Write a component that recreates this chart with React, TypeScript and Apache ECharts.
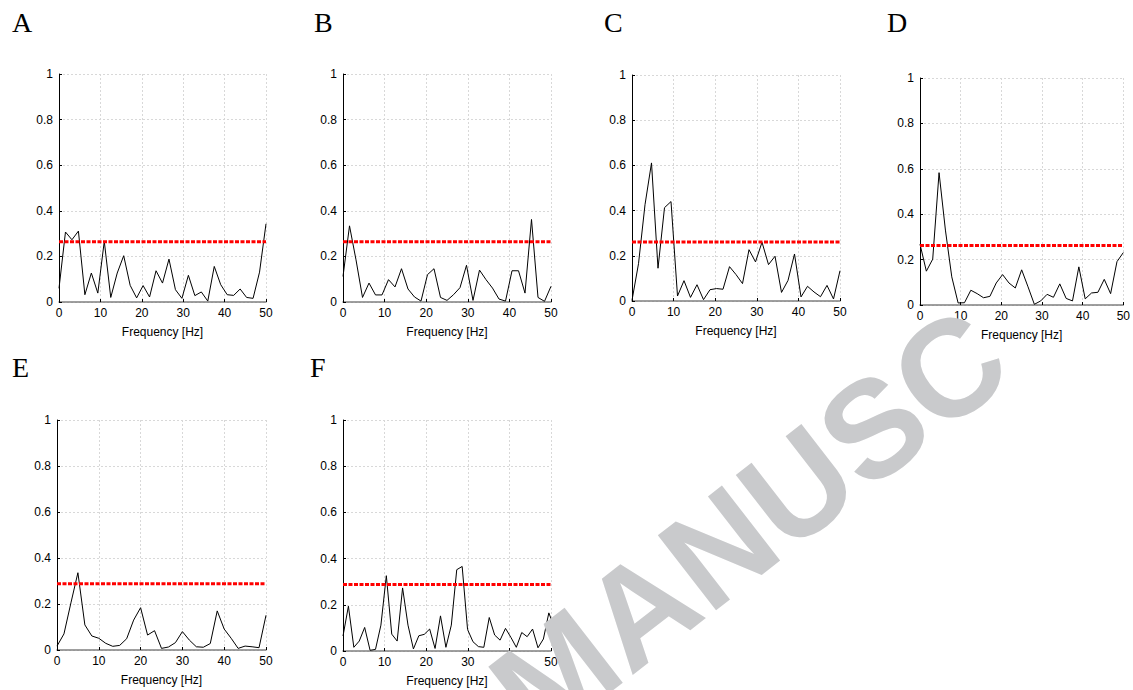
import React, { useEffect, useRef } from "react";
import * as echarts from "echarts";

// Spectra (coherence) per panel, sampled on uniform frequency bins
const stepA = 1.5625;
const valsA = [0.06, 0.307, 0.273, 0.311, 0.032, 0.127, 0.039, 0.266, 0.02, 0.127, 0.203, 0.073, 0.018, 0.072, 0.022, 0.137, 0.083, 0.188, 0.054, 0.016, 0.117, 0.028, 0.044, 0.004, 0.156, 0.076, 0.032, 0.029, 0.057, 0.02, 0.016, 0.131, 0.343];
const stepB = 1.5625;
const valsB = [0.112, 0.334, 0.185, 0.02, 0.083, 0.031, 0.031, 0.098, 0.066, 0.146, 0.057, 0.022, 0.004, 0.12, 0.146, 0.02, 0.007, 0.032, 0.063, 0.161, 0.007, 0.14, 0.098, 0.061, 0.013, 0.004, 0.137, 0.137, 0.039, 0.362, 0.02, 0.003, 0.069];
const stepC = 1.5625;
const valsC = [0.003, 0.165, 0.426, 0.611, 0.145, 0.413, 0.44, 0.022, 0.09, 0.016, 0.072, 0.006, 0.05, 0.055, 0.052, 0.152, 0.117, 0.077, 0.227, 0.173, 0.26, 0.161, 0.198, 0.038, 0.091, 0.208, 0.018, 0.065, 0.04, 0.019, 0.069, 0.009, 0.134];
const stepD = 1.5625;
const valsD = [0.268, 0.149, 0.202, 0.583, 0.33, 0.124, 0.009, 0.01, 0.065, 0.05, 0.032, 0.038, 0.097, 0.134, 0.097, 0.075, 0.155, 0.08, 0.003, 0.018, 0.047, 0.034, 0.093, 0.029, 0.018, 0.168, 0.027, 0.053, 0.056, 0.113, 0.05, 0.191, 0.231];
const stepE = 50 / 30;
const valsE = [0.017, 0.07, 0.205, 0.336, 0.109, 0.061, 0.051, 0.029, 0.016, 0.02, 0.049, 0.13, 0.184, 0.065, 0.084, 0.007, 0.013, 0.032, 0.08, 0.043, 0.014, 0.012, 0.028, 0.17, 0.091, 0.051, 0.007, 0.017, 0.014, 0.01, 0.151];
const stepF = 1.302;
const valsF = [0.065, 0.194, 0.016, 0.043, 0.102, 0.003, 0.007, 0.112, 0.326, 0.073, 0.043, 0.273, 0.112, 0.009, 0.066, 0.072, 0.095, 0.011, 0.152, 0.016, 0.112, 0.352, 0.366, 0.093, 0.04, 0.019, 0.016, 0.145, 0.069, 0.047, 0.098, 0.059, 0.016, 0.08, 0.062, 0.095, 0.014, 0.052, 0.165, 0.104];

// Significance thresholds (red dotted)
const thresholds = [0.264, 0.264, 0.261, 0.262, 0.288, 0.288];
const panelLabels = ["A", "B", "C", "D", "E", "F"];
const xTicks = { min: 0, max: 50, interval: 10 };
const yTicks = { min: 0, max: 1, interval: 0.2 };
const xName = "Frequency [Hz]";
const watermark = "MANUSC";

const panels = [
  { step: stepA, vals: valsA },
  { step: stepB, vals: valsB },
  { step: stepC, vals: valsC },
  { step: stepD, vals: valsD },
  { step: stepE, vals: valsE },
  { step: stepF, vals: valsF },
];

// layout (px)
const grids = [
  { left: 59, top: 74, width: 207, height: 228 },
  { left: 343, top: 74, width: 208, height: 228 },
  { left: 632, top: 75, width: 208, height: 226 },
  { left: 920, top: 78, width: 206, height: 227 },
  { left: 57, top: 420, width: 209, height: 230 },
  { left: 343, top: 420, width: 208, height: 231 },
];
const labelPos = [
  [12, 8], [314, 8], [604, 8], [887, 8], [12, 353], [310, 353],
];

const FONT = "'Liberation Sans', Arial, sans-serif";

export default function App() {
  const ref = useRef<HTMLDivElement>(null);
  useEffect(() => {
    document.body.style.margin = "0";
    if (!ref.current) return;
    const chart = echarts.init(ref.current, undefined, { renderer: "svg" });
    const grid: any[] = [];
    const xAxis: any[] = [];
    const yAxis: any[] = [];
    const series: any[] = [];
    const graphic: any[] = [];
    panels.forEach((p, i) => {
      grid.push({ ...grids[i], containLabel: false });
      xAxis.push({
        type: "value",
        gridIndex: i,
        min: xTicks.min,
        max: xTicks.max,
        interval: xTicks.interval,
        name: xName,
        nameLocation: "middle",
        nameGap: 24,
        nameTextStyle: { color: "#000", fontSize: 12, fontFamily: FONT },
        axisLine: { show: true, lineStyle: { color: "#808080", width: 1.5 } },
        axisTick: { show: true, inside: true, length: 3, lineStyle: { color: "#000" } },
        axisLabel: { color: "#000", fontSize: 12, fontFamily: FONT, margin: 5 },
        splitLine: { show: true, lineStyle: { color: "#d8d8d8", type: [2, 2], width: 1 } },
      });
      yAxis.push({
        type: "value",
        gridIndex: i,
        min: yTicks.min,
        max: yTicks.max,
        interval: yTicks.interval,
        axisLine: { show: true, lineStyle: { color: "#000", width: 1 } },
        axisTick: { show: true, inside: true, length: 3, lineStyle: { color: "#000" } },
        axisLabel: { color: "#000", fontSize: 12, fontFamily: FONT, margin: 6 },
        splitLine: { show: true, lineStyle: { color: "#d8d8d8", type: [2, 2], width: 1 } },
      });
      series.push({
        type: "line",
        xAxisIndex: i,
        yAxisIndex: i,
        data: p.vals.map((v, k) => [k * p.step, v]),
        showSymbol: false,
        symbol: "none",
        clip: true,
        lineStyle: { color: "#000", width: 1 },
        z: 3,
      });
      series.push({
        type: "line",
        xAxisIndex: i,
        yAxisIndex: i,
        data: [[xTicks.min, thresholds[i]], [xTicks.max, thresholds[i]]],
        showSymbol: false,
        symbol: "none",
        lineStyle: { color: "#ff0000", width: 3, type: [4, 1.5] },
        z: 4,
      });
      graphic.push({
        type: "text",
        left: labelPos[i][0],
        top: labelPos[i][1],
        style: {
          text: panelLabels[i],
          fontSize: 28,
          fontFamily: "'Liberation Serif', 'Times New Roman', serif",
          fill: "#000",
        },
      });
    });
    graphic.push({
      type: "text",
      x: 749,
      y: 524,
      rotation: 0.66,
      z: 10,
      style: {
        text: watermark,
        x: 0,
        y: 0,
        textAlign: "center",
        textVerticalAlign: "middle",
        fontSize: 138,
        fontWeight: "bold",
        fontFamily: FONT,
        fill: "#c9cacc",
      },
    });
    chart.setOption({
      animation: false,
      backgroundColor: "#fff",
      grid,
      xAxis,
      yAxis,
      series,
      graphic,
    });
    return () => chart.dispose();
  }, []);
  return <div ref={ref} style={{ width: 1133, height: 690 }} />;
}
